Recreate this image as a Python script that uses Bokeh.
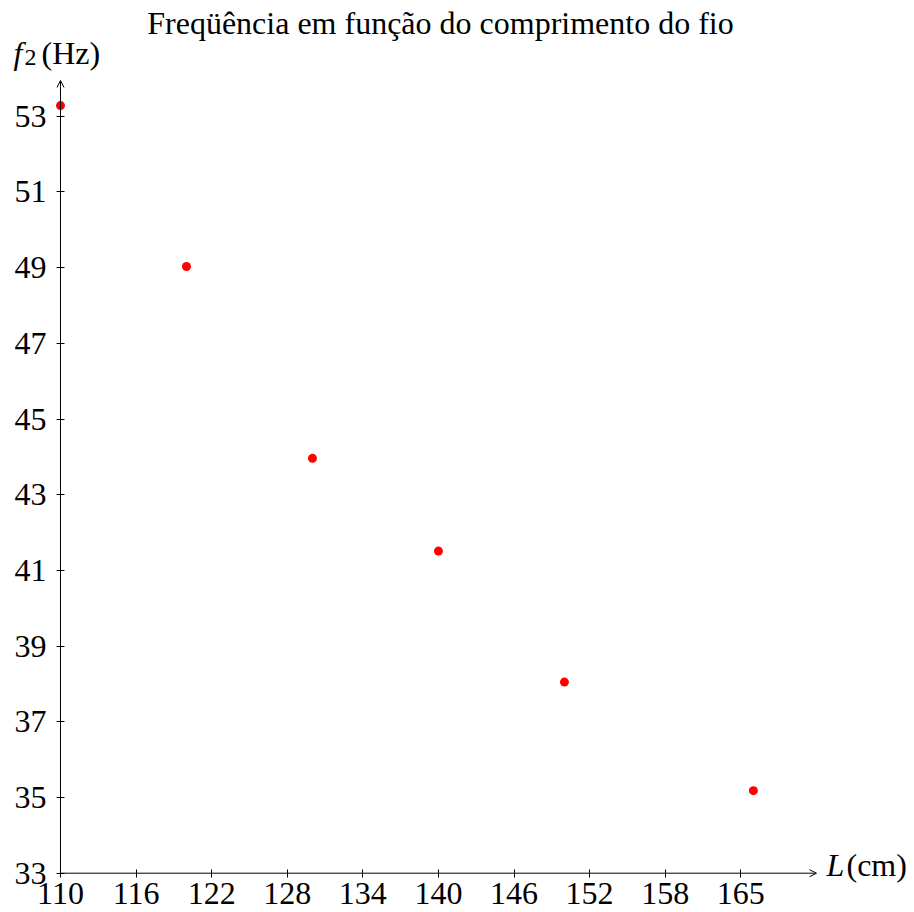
from bokeh.plotting import figure
from bokeh.models import Range1d, FixedTicker, Arrow, OpenHead, Label
from bokeh.embed import file_html
from bokeh.resources import INLINE

# ---- data ----
lengths_cm = [110, 120, 130, 140, 150, 165]
freq_hz = [53.28, 49.03, 43.96, 41.51, 38.05, 35.18]
x_ticks = [110, 116, 122, 128, 134, 140, 146, 152, 158, 164]
x_tick_labels = ["110", "116", "122", "128", "134", "140", "146", "152", "158", "165"]
y_ticks = [33, 35, 37, 39, 41, 43, 45, 47, 49, 51, 53]
title_text = "Freqüência em função do comprimento do fio"

W, H = 914, 912
XPX = 12.598   # px per cm
YPX = 37.85    # px per Hz
X0PX, Y0PX = 60, 872.7  # pixel of (110, 33)

x_start = 110 - X0PX / XPX
x_end = 110 + (W - X0PX) / XPX
y_start = 33 - (H - Y0PX) / YPX
y_end = 33 + Y0PX / YPX

def px_x(px):
    return x_start + px / XPX

def px_y(py):
    return y_start + (H - py) / YPX

FONT = "Liberation Serif"

p = figure(width=W, height=H, output_backend="svg", toolbar_location=None,
           x_range=Range1d(x_start, x_end), y_range=Range1d(y_start, y_end),
           min_border_left=0, min_border_right=0,
           min_border_top=0, min_border_bottom=0, min_border=0)
p.outline_line_color = None
p.grid.visible = False
p.background_fill_color = "white"
p.border_fill_color = "white"

p.xaxis.fixed_location = 33
p.yaxis.fixed_location = 110
p.xaxis.ticker = FixedTicker(ticks=x_ticks)
p.xaxis.major_label_overrides = {t: l for t, l in zip(x_ticks, x_tick_labels)}
p.yaxis.ticker = FixedTicker(ticks=y_ticks)
for ax in (p.xaxis, p.yaxis):
    ax.axis_line_color = None
    ax.major_tick_in = 4
    ax.major_tick_out = 4
    ax.major_tick_line_color = "black"
    ax.minor_tick_line_color = None
    ax.major_label_text_font = FONT
    ax.major_label_text_font_size = "32px"
    ax.major_label_text_color = "black"
p.xaxis.major_label_standoff = 6
p.yaxis.major_label_standoff = 10

# axis lines with arrow heads
p.add_layout(Arrow(end=OpenHead(size=7, line_width=1, line_color="black"),
                   x_start=110, y_start=33, x_end=px_x(816), y_end=33,
                   line_color="black", line_width=1))
p.add_layout(Arrow(end=OpenHead(size=7, line_width=1, line_color="black"),
                   x_start=110, y_start=33, x_end=110, y_end=px_y(80),
                   line_color="black", line_width=1))

p.scatter(lengths_cm, freq_hz, size=9, fill_color="red", line_color=None)

SHIFT = 12  # label baseline correction, px

def add_text(txt, px, py, size="32px", style="normal", align="left"):
    p.add_layout(Label(x=px_x(px), y=px_y(py - SHIFT), text=txt, text_font=FONT,
                       text_font_size=size, text_font_style=style,
                       text_align=align, text_baseline="alphabetic",
                       text_color="black"))

add_text(title_text, 440, 34, align="center")
add_text("f", 13, 64, style="italic")
add_text("2", 24, 69, size="24px")
add_text("(Hz)", 41, 64)
add_text("L", 826, 876, style="italic")
add_text("(cm)", 846, 876)

open("out.html", "w").write(file_html(p, INLINE))
